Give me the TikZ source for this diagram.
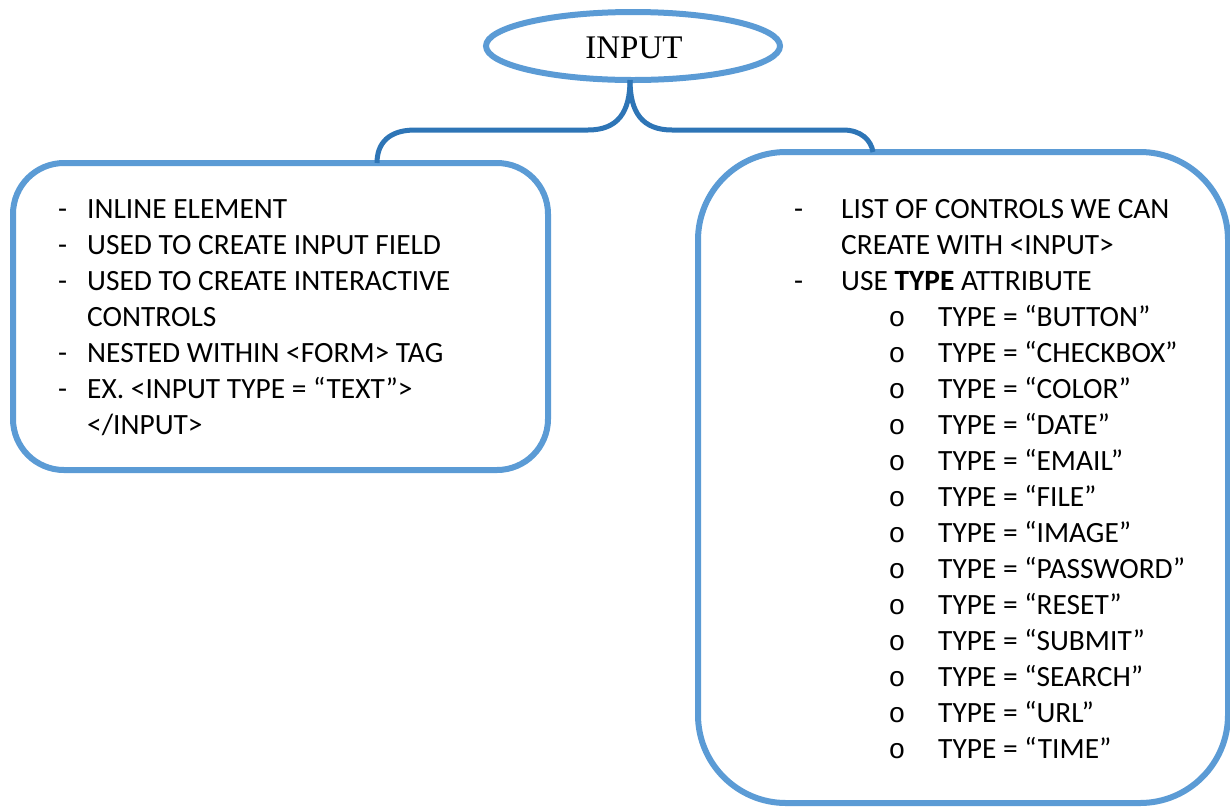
\documentclass[tikz,border=0pt]{standalone}
\usepackage{fontspec}
\setmainfont{Carlito}
\newfontfamily\timesf{Liberation Serif}
\newfontfamily\monof{Liberation Mono}
\usetikzlibrary{shapes.geometric,calc}
\definecolor{boxblue}{HTML}{5B9BD5}
\definecolor{bracblue}{HTML}{2E75B6}
\begin{document}
\begin{tikzpicture}[x=1pt,y=-1pt,
  boxline/.style={draw=boxblue, line width=6pt, inner sep=0pt, outer sep=0pt, fill=white},
  brace/.style={draw=bracblue, line width=5pt},
  txt/.style={anchor=base west, inner sep=0pt, font=\fontsize{29.4}{32}\selectfont},
  bul/.style={anchor=base, inner sep=0pt, font=\monof\fontsize{28}{30}\selectfont}]
\useasboundingbox (0,0) rectangle (1230,807);
% boxes
\node[boxline, rectangle, rounded corners=51pt, minimum width=535pt, minimum height=307pt] (lbox) at (280.5,316.5) {};
\node[boxline, rectangle, rounded corners=88pt, minimum width=530pt, minimum height=651pt] (rbox) at (963,477.5) {};
\node[boxline, ellipse, minimum width=294pt, minimum height=68pt] (inp) at (633,46) {};
\node[anchor=base, inner sep=0pt, font=\timesf\fontsize{33}{36}\selectfont] (title) at ($(inp.center)+(1,12)$) {INPUT};
% brace
\coordinate (bl) at ($(lbox.north west)+(364,0)$);
\coordinate (br) at ($(rbox.north west)+(175,0)$);
\coordinate (tip) at ($(inp.south)+(-3,0)$);
\draw[brace] (tip) .. controls ($(tip)+(0,32)$) and ($(tip)+(-12,50)$) .. ($(tip)+(-42,50)$)
  -- ($(bl)+(38,-33)$) .. controls ($(bl)+(12,-33)$) and ($(bl)+(0,-20)$) .. (bl);
\draw[brace] (tip) .. controls ($(tip)+(0,32)$) and ($(tip)+(12,50)$) .. ($(tip)+(42,50)$)
  -- ($(br)+(-30,-22)$) .. controls ($(br)+(-12,-22)$) and ($(br)+(-2,-12)$) .. (br);
% left box text
\foreach \n/\y/\t in {1/218.5/INLINE ELEMENT, 2/254.5/USED TO CREATE INPUT FIELD, 3/290.5/USED TO CREATE INTERACTIVE, 5/362.5/NESTED WITHIN <FORM> TAG, 6/398.5/{EX. <INPUT TYPE = “TEXT”>}}{
  \node[txt] (ld\n) at (58,\y) {-};
  \node[txt] (lt\n) at (87,\y) {\t};
}
\node[txt] (lt4) at (87,326.5) {CONTROLS};
\node[txt] (lt7) at (87,434.5) {</INPUT>};
% right box text
\node[txt] (rd1) at (794,218.5) {-};
\node[txt] (rt1) at (841,218.5) {LIST OF CONTROLS WE CAN};
\node[txt] (rt2) at (841,254.5) {CREATE WITH <INPUT>};
\node[txt] (rd3) at (794,290.5) {-};
\node[txt] (rt3) at (841,290.5) {USE \textbf{TYPE} ATTRIBUTE};
\foreach \n/\y/\t in {1/326.5/BUTTON, 2/362.5/CHECKBOX, 3/398.5/COLOR, 4/434.5/DATE, 5/470.5/EMAIL, 6/506.5/FILE, 7/542.5/IMAGE, 8/578.5/PASSWORD, 9/614.5/RESET, 10/650.5/SUBMIT, 11/686.5/SEARCH, 12/722.5/URL, 13/758.5/TIME}{
  \node[bul] (rb\n) at (897,\y) {o};
  \node[txt] (ri\n) at (938,\y) {TYPE = “\t”};
}
\end{tikzpicture}
\end{document}
